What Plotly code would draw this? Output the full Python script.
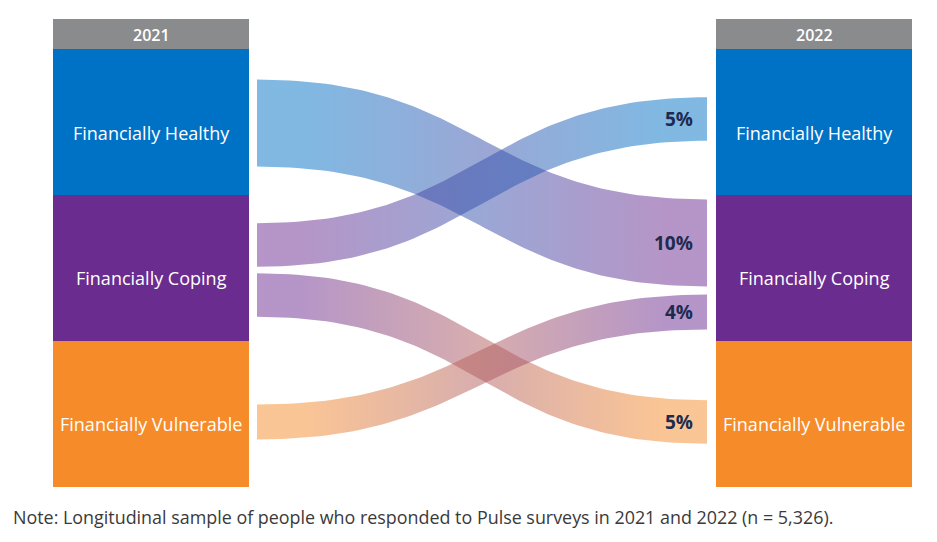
import numpy as np
import plotly.graph_objects as go

# ---------------- data ----------------
years = ["2021", "2022"]
categories = ["Financially Healthy", "Financially Coping", "Financially Vulnerable"]
flow_sources = ["Financially Healthy", "Financially Coping", "Financially Coping", "Financially Vulnerable"]
flow_targets = ["Financially Coping", "Financially Healthy", "Financially Vulnerable", "Financially Coping"]
flow_shares = [10, 5, 5, 4]          # % of respondents moving
flow_labels = ["10%", "5%", "5%", "4%"]
note = "Note: Longitudinal sample of people who responded to Pulse surveys in 2021 and 2022 (n = 5,326)."

# ---------------- layout / style ----------------
W, H = 937, 542
COL_X = [(53, 249), (716, 912)]
HEADER = (19, 49)
BOX_TOP = 49
BOX_H = 146
BAND_X = (257, 707)
PX_PER_PCT = 8.7
# band centre offsets inside source / target boxes (px from box top)
SRC_OFF = [74, 50, 100, 81]
TGT_OFF = [48, 70, 81, 117]
LABEL_DY = 10

node_rgb = {
    "Financially Healthy": (0, 114, 198),
    "Financially Coping": (107, 44, 143),
    "Financially Vulnerable": (246, 139, 42),
}
HEADER_COLOR = "#8a8b8d"
LABEL_COLOR = "#1d2b4f"
FONT = "Open Sans"


def rgba(c, a):
    return f"rgba({c[0]},{c[1]},{c[2]},{a})"


fig = go.Figure()
shapes = []
annotations = []

# nodes
for ci, (x0, x1) in enumerate(COL_X):
    shapes.append(dict(type="rect", xref="x", yref="y", x0=x0, x1=x1,
                       y0=HEADER[0], y1=HEADER[1], fillcolor=HEADER_COLOR,
                       line=dict(width=0), layer="below"))
    annotations.append(dict(x=(x0 + x1) / 2, y=(HEADER[0] + HEADER[1]) / 2 + 1,
                            text=years[ci], showarrow=False, xref="x", yref="y",
                            font=dict(family=FONT, size=16, color="white", weight=600)))
    for k, cat in enumerate(categories):
        top = BOX_TOP + k * BOX_H
        shapes.append(dict(type="rect", xref="x", yref="y", x0=x0, x1=x1,
                           y0=top, y1=top + BOX_H,
                           fillcolor=rgba(node_rgb[cat], 1),
                           line=dict(width=0), layer="below"))
        annotations.append(dict(x=(x0 + x1) / 2, y=top + BOX_H / 2 + LABEL_DY + (1 if k == 0 else 0),
                                text=cat, showarrow=False, xref="x", yref="y",
                                font=dict(family=FONT, size=18, color="white")))

# flows
t = np.linspace(0, 1, 80)
bx0, bx1 = BAND_X
xm = (bx0 + bx1) / 2
xs = (1 - t) ** 3 * bx0 + 3 * (1 - t) ** 2 * t * xm + 3 * (1 - t) * t ** 2 * xm + t ** 3 * bx1
h01 = 3 * (1 - t) * t ** 2 + t ** 3  # vertical blend factor

for i, (s, d, v, lab) in enumerate(zip(flow_sources, flow_targets, flow_shares, flow_labels)):
    thick = v * PX_PER_PCT
    yc0 = BOX_TOP + categories.index(s) * BOX_H + SRC_OFF[i]
    yc1 = BOX_TOP + categories.index(d) * BOX_H + TGT_OFF[i]
    yc = yc0 + (yc1 - yc0) * h01
    top = yc - thick / 2
    bot = yc + thick / 2
    px = np.concatenate([xs, xs[::-1], xs[:1]])
    py = np.concatenate([top, bot[::-1], top[:1]])
    cs = rgba(node_rgb[s], 0.5)
    ct = rgba(node_rgb[d], 0.5)
    fig.add_trace(go.Scatter(
        x=px, y=py, mode="lines", line=dict(width=0), fill="toself",
        fillgradient=dict(type="horizontal",
                          colorscale=[[0, cs], [0.1, cs], [0.9, ct], [1, ct]]),
        hoverinfo="skip", showlegend=False))
    annotations.append(dict(x=bx1 - 12, y=yc1, text=f"<b>{lab}</b>", showarrow=False,
                            xref="x", yref="y", xanchor="right",
                            font=dict(family=FONT, size=19, color=LABEL_COLOR)))

annotations.append(dict(x=11, y=517, text=note, showarrow=False, xref="x", yref="y",
                        xanchor="left", font=dict(family=FONT, size=17.9, color="#3a3a3a")))

fig.update_layout(
    width=W, height=H, margin=dict(l=0, r=0, t=0, b=0),
    paper_bgcolor="white", plot_bgcolor="white",
    xaxis=dict(range=[0, W], visible=False, fixedrange=True),
    yaxis=dict(range=[H, 0], visible=False, fixedrange=True),
    shapes=shapes, annotations=annotations, showlegend=False,
)

fig.write_html("out.html", config={"displayModeBar": False},
               post_script="document.body.style.margin='0';document.body.style.overflow='hidden';")
